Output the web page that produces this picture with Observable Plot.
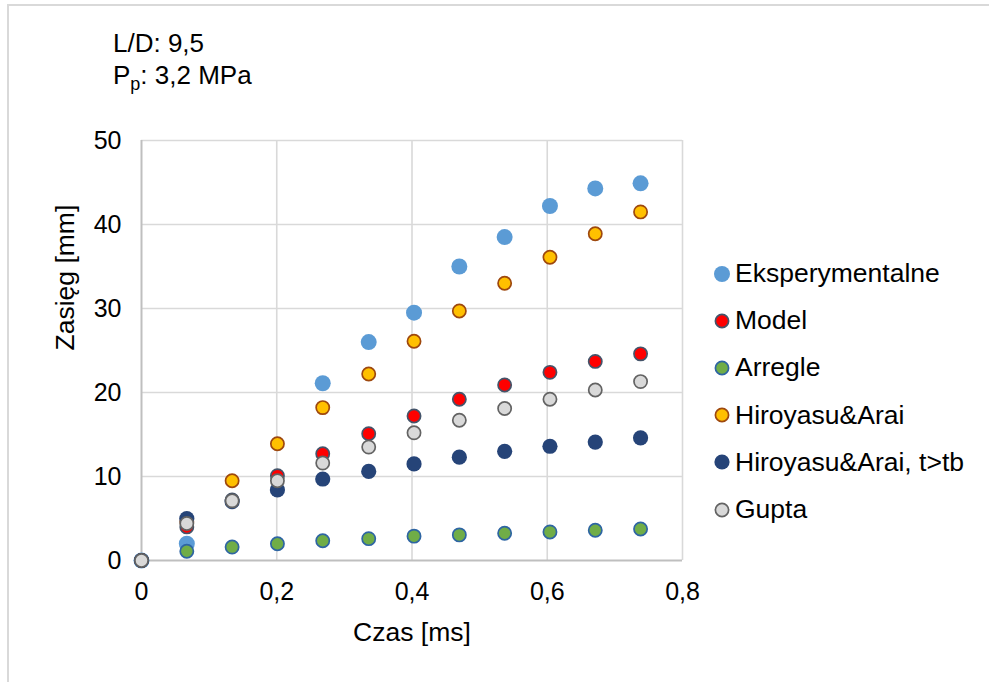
<!DOCTYPE html>
<html>
<head>
<meta charset="utf-8">
<script src="https://cdn.jsdelivr.net/npm/d3@7"></script>
<script src="https://cdn.jsdelivr.net/npm/@observablehq/plot@0.6"></script>
<style>
  html, body { margin: 0; padding: 0; background: #fff; }
  #wrap { position: relative; width: 989px; height: 682px; overflow: hidden; font-family: "Liberation Sans", Arial, sans-serif; }
  #border { position: absolute; left: 7px; top: 4px; width: 1100px; height: 800px; border: 2px solid #d9d9d9; box-sizing: border-box; pointer-events: none; }
  #title { position: absolute; left: 113px; top: 27px; font-size: 26px; line-height: 32px; color: #000; }
  #title sub { font-size: 18px; vertical-align: -6px; line-height: 0; }
  #legend { position: absolute; left: 712px; top: 250px; font-size: 26.5px; color: #000; }
  .lrow { height: 47.2px; display: flex; align-items: center; }
  .lrow svg { margin-right: 3px; }
  #chart { position: absolute; left: 0; top: 0; }
</style>
</head>
<body>
<div id="wrap">
  <div id="chart"></div>
  <div id="border"></div>
  <div id="title">L/D: 9,5<br>P<sub>p</sub>: 3,2 MPa</div>
  <div id="legend"></div>
</div>
<script>
// Data
const times = [0, 0.067, 0.134, 0.201, 0.268, 0.336, 0.403, 0.470, 0.537, 0.604, 0.671, 0.738];
const eksperymentalne = [0, 2.0, null, null, 21.1, 26.0, 29.5, 35.0, 38.5, 42.2, 44.3, 44.9];
const model = [0, 4.0, 7.2, 10.1, 12.7, 15.1, 17.2, 19.2, 20.9, 22.4, 23.7, 24.6];
const arregle = [0, 1.1, 1.6, 2.0, 2.35, 2.6, 2.9, 3.05, 3.25, 3.4, 3.6, 3.75];
const hiroyasu = [0, 4.6, 9.5, 13.9, 18.2, 22.2, 26.1, 29.7, 33.0, 36.1, 38.9, 41.5];
const hiroyasuTb = [0, 5.0, 7.0, 8.4, 9.7, 10.6, 11.5, 12.3, 13.0, 13.6, 14.1, 14.6];
const gupta = [0, 4.4, 7.1, 9.5, 11.6, 13.5, 15.2, 16.7, 18.1, 19.2, 20.3, 21.3];

const seriesNames = ["Eksperymentalne", "Model", "Arregle", "Hiroyasu&Arai", "Hiroyasu&Arai, t>tb", "Gupta"];
const seriesValues = [eksperymentalne, model, arregle, hiroyasu, hiroyasuTb, gupta];
const xTicks = [0, 0.2, 0.4, 0.6, 0.8];
const yTicks = [0, 10, 20, 30, 40, 50];

// Styles
const styles = [
  {fill: "#5B9BD5", stroke: "none", r: 8, sw: 0},
  {fill: "#FF0000", stroke: "#44546A", r: 6.6, sw: 1.7},
  {fill: "#70AD47", stroke: "#2E65A3", r: 6.6, sw: 1.7},
  {fill: "#FFC000", stroke: "#9E480E", r: 6.6, sw: 1.7},
  {fill: "#264478", stroke: "none", r: 7.6, sw: 0},
  {fill: "#D9D9D9", stroke: "#636363", r: 6.6, sw: 1.7}
];

const fmt = d => String(d).replace(".", ",");

const dotMarks = seriesNames.map((name, si) => {
  const rows = times.map((t, i) => ({t, v: seriesValues[si][i], series: name})).filter(d => d.v != null);
  const s = styles[si];
  return Plot.dot(rows, {x: "t", y: "v", r: s.r, fill: s.fill, stroke: s.stroke, strokeWidth: s.sw});
});

const chart = Plot.plot({
  width: 989,
  height: 682,
  marginLeft: 141,
  marginRight: 307,
  marginTop: 140,
  marginBottom: 122,
  style: {fontFamily: "Liberation Sans, Arial, sans-serif", fontSize: "25px", background: "transparent", color: "#000"},
  x: {domain: [0, 0.8]},
  y: {domain: [0, 50]},
  marks: [
    Plot.ruleX(xTicks.filter(d => d > 0), {stroke: "#d9d9d9", strokeWidth: 1.6}),
    Plot.ruleY(yTicks.filter(d => d > 0), {stroke: "#d9d9d9", strokeWidth: 1.6}),
    Plot.ruleX([0], {stroke: "#bfbfbf", strokeWidth: 2}),
    Plot.ruleY([0], {stroke: "#bfbfbf", strokeWidth: 2}),
    Plot.axisX(xTicks, {tickSize: 0, tickPadding: 22, tickFormat: fmt, label: null, fill: "#000"}),
    Plot.axisY(yTicks, {tickSize: 0, tickPadding: 20, tickFormat: fmt, label: null, fill: "#000"}),
    Plot.text(["Czas [ms]"], {frameAnchor: "bottom", dy: 72, text: d => d, fontSize: 26.5, lineAnchor: "middle"}),
    Plot.text(["Zasięg [mm]"], {frameAnchor: "left", dx: -76, rotate: -90, text: d => d, fontSize: 26.5, lineAnchor: "middle"}),
    ...dotMarks
  ]
});
document.getElementById("chart").appendChild(chart);

// Legend
const legend = document.getElementById("legend");
seriesNames.forEach((name, i) => {
  const s = styles[i];
  const row = document.createElement("div");
  row.className = "lrow";
  row.innerHTML = `<svg width="20" height="20"><circle cx="10" cy="10" r="${s.r}" fill="${s.fill}" stroke="${s.stroke}" stroke-width="${s.sw}"/></svg><span></span>`;
  row.querySelector("span").textContent = name;
  legend.appendChild(row);
});
</script>
</body>
</html>
